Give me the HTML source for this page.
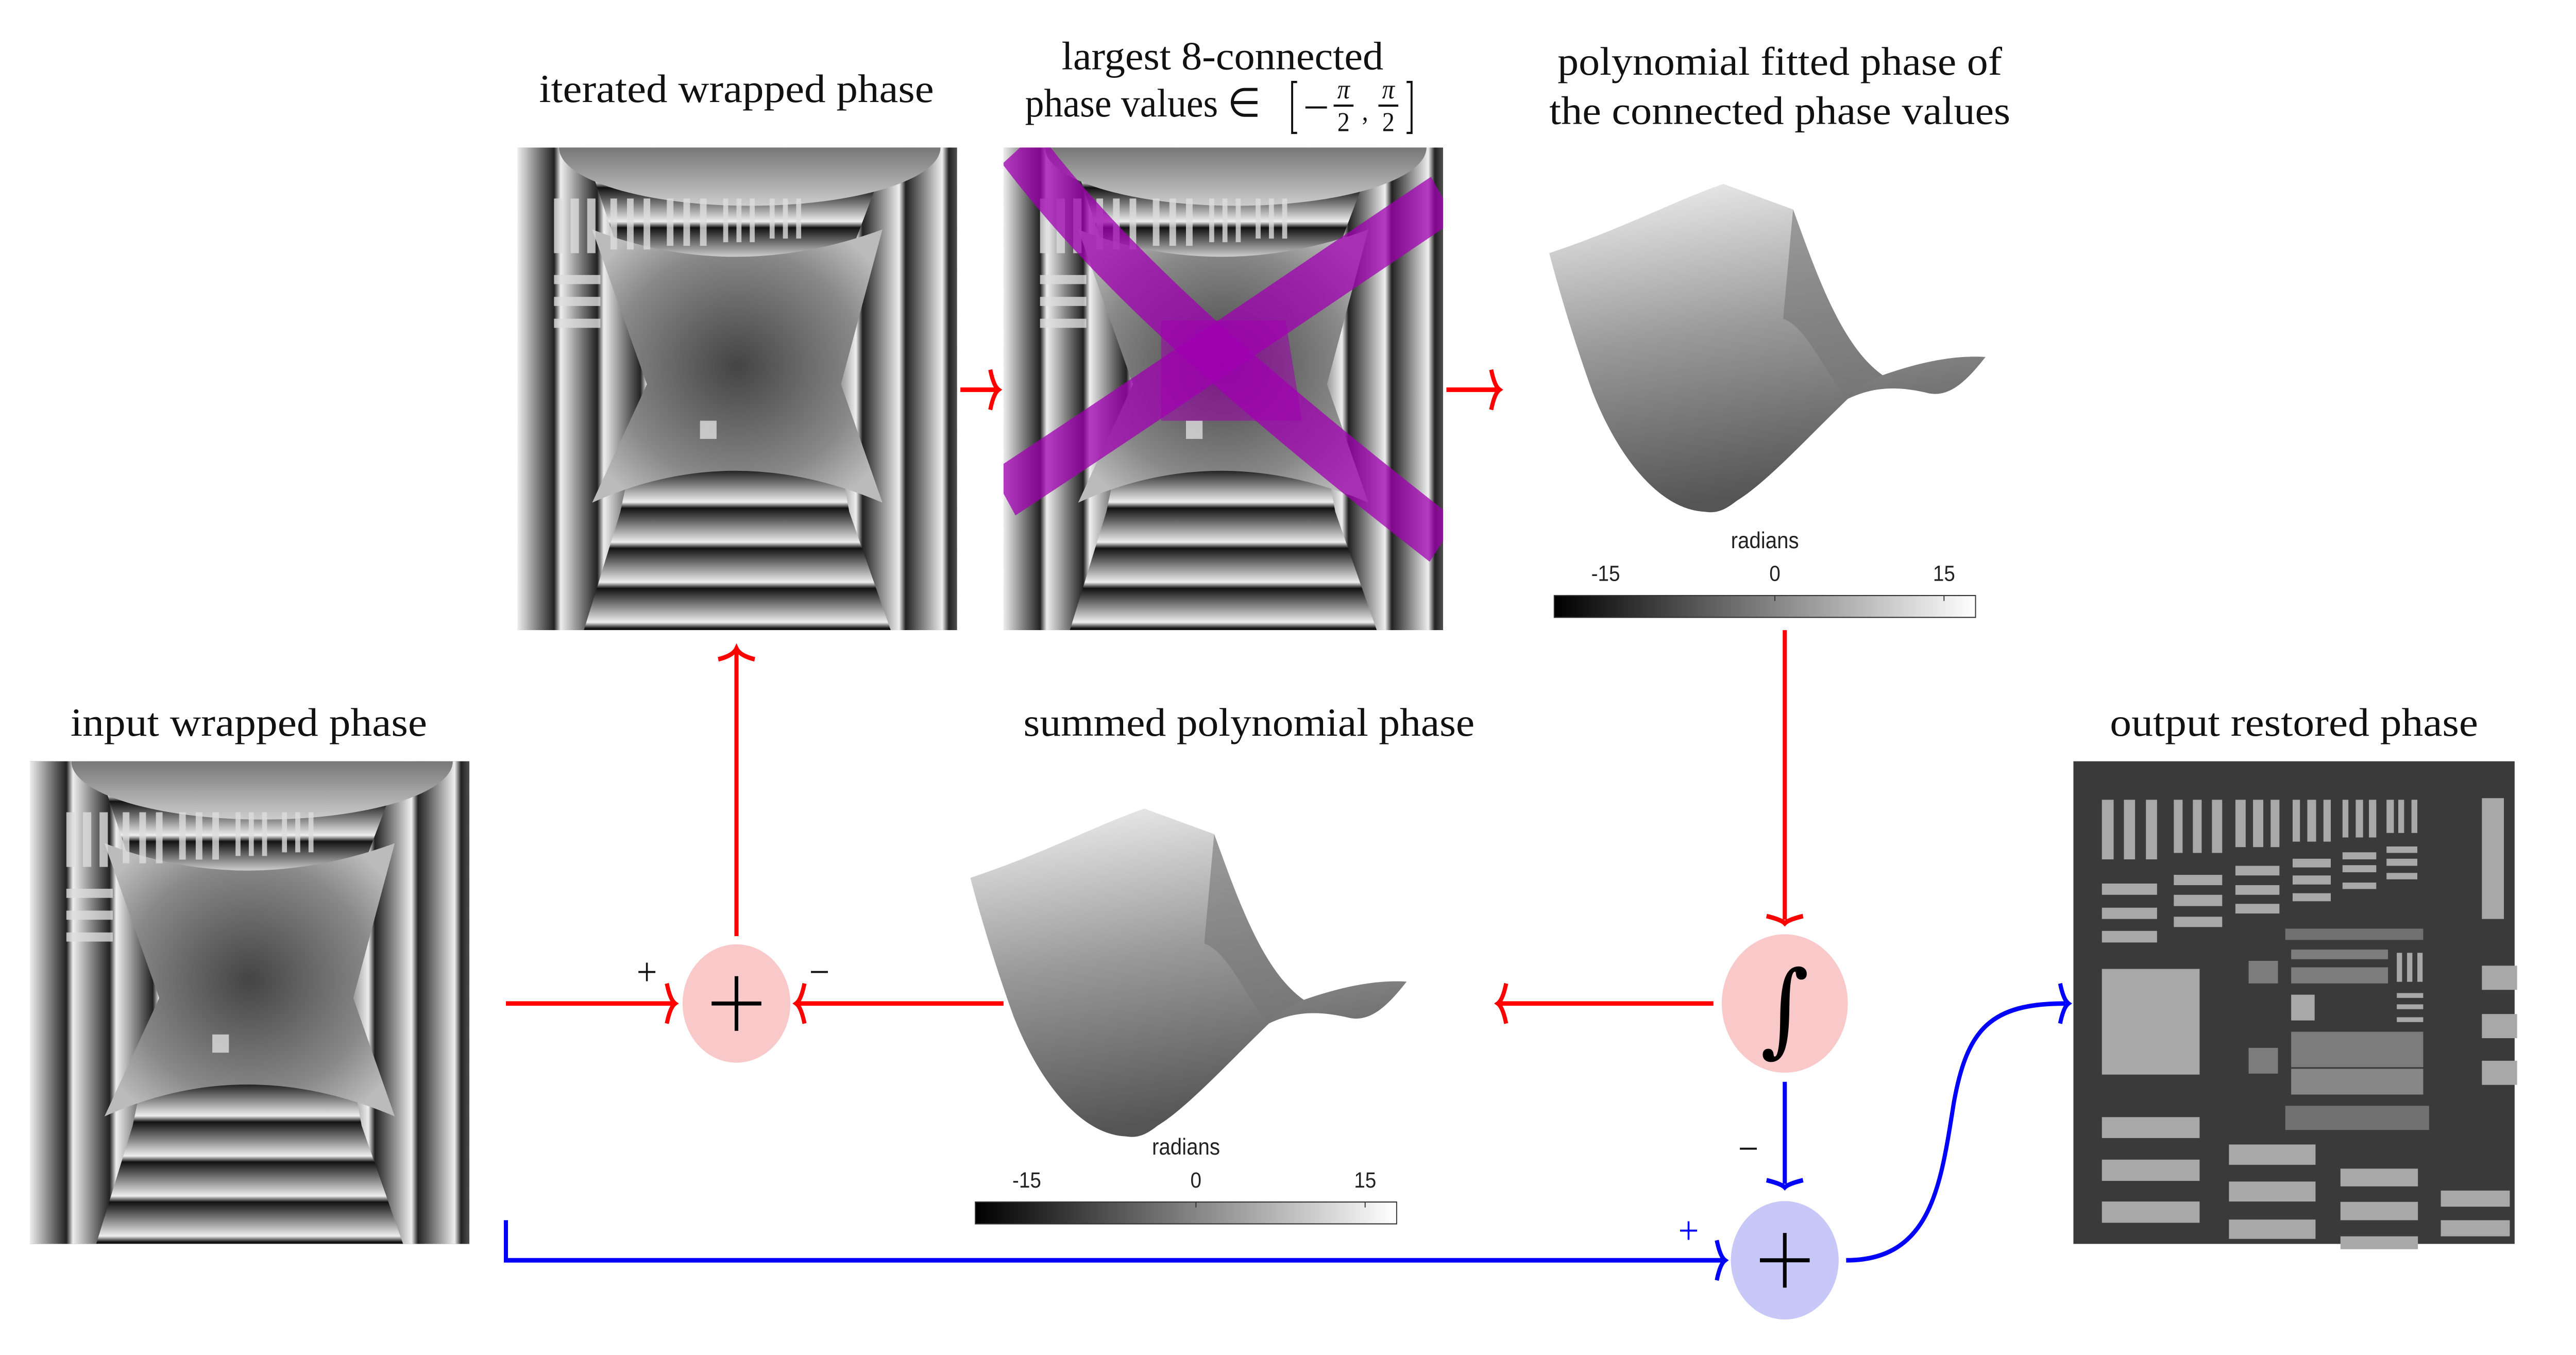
<!DOCTYPE html>
<html><head><meta charset="utf-8"><style>html,body{margin:0;padding:0;background:#fff;overflow:hidden;width:100%;height:100%}svg{display:block;width:100vw;height:100vh}</style></head><body>
<svg viewBox="0 0 1553 744" preserveAspectRatio="none" xmlns="http://www.w3.org/2000/svg">
<defs>
<clipPath id="pc"><rect x="0" y="0" width="265" height="265"/></clipPath>
<linearGradient id="sawV" gradientUnits="userSpaceOnUse" x1="0" y1="0" x2="0" y2="22" spreadMethod="repeat"><stop offset="0" stop-color="#111"/><stop offset="0.85" stop-color="#eee"/><stop offset="1" stop-color="#111"/></linearGradient>
<linearGradient id="sawH" gradientUnits="userSpaceOnUse" x1="0" y1="0" x2="26" y2="0" spreadMethod="repeat"><stop offset="0" stop-color="#eee"/><stop offset="0.85" stop-color="#222"/><stop offset="1" stop-color="#eee"/></linearGradient>
<linearGradient id="sawH2" gradientUnits="userSpaceOnUse" x1="0" y1="0" x2="26" y2="0" spreadMethod="repeat"><stop offset="0" stop-color="#222"/><stop offset="0.85" stop-color="#eee"/><stop offset="1" stop-color="#222"/></linearGradient>
<radialGradient id="cen" cx="0.5" cy="0.5" r="0.6"><stop offset="0" stop-color="#444"/><stop offset="0.7" stop-color="#888"/><stop offset="1" stop-color="#bbb"/></radialGradient>
<linearGradient id="cap" x1="0" y1="0" x2="0" y2="1"><stop offset="0" stop-color="#222"/><stop offset="1" stop-color="#ccc"/></linearGradient>
<linearGradient id="surf" x1="0" y1="0" x2="0.2" y2="1"><stop offset="0" stop-color="#f2f2f2"/><stop offset="0.5" stop-color="#9a9a9a"/><stop offset="1" stop-color="#555"/></linearGradient>
<linearGradient id="cb" x1="0" y1="0" x2="1" y2="0"><stop offset="0" stop-color="#000"/><stop offset="1" stop-color="#fff"/></linearGradient>
<g id="ph">
<g clip-path="url(#pc)">
<rect x="0" y="0" width="265" height="265" fill="url(#sawV)"/>
<path d="M0,0 L40,0 L62,60 L78,130 L62,200 L40,265 L0,265 Z" fill="url(#sawH)"/>
<path d="M265,0 L225,0 L200,60 L186,130 L200,200 L225,265 L265,265 Z" fill="url(#sawH2)"/>
<path d="M45,45 Q130,75 220,45 L195,130 L220,195 Q130,160 45,195 L78,130 Z" fill="url(#cen)"/>
<ellipse cx="140" cy="0" rx="115" ry="32" fill="url(#cap)"/>
<g fill="#ddd" opacity="0.8">
<rect x="22" y="28" width="5" height="30"/><rect x="32" y="28" width="5" height="30"/><rect x="42" y="28" width="5" height="30"/><rect x="56" y="28" width="4" height="28"/><rect x="66" y="28" width="4" height="28"/><rect x="76" y="28" width="4" height="28"/><rect x="90" y="28" width="4" height="26"/><rect x="100" y="28" width="4" height="26"/><rect x="110" y="28" width="4" height="26"/><rect x="124" y="28" width="3" height="24"/><rect x="132" y="28" width="3" height="24"/><rect x="140" y="28" width="3" height="24"/><rect x="152" y="28" width="3" height="22"/><rect x="160" y="28" width="3" height="22"/><rect x="168" y="28" width="3" height="22"/>
<rect x="22" y="70" width="28" height="5"/><rect x="22" y="82" width="28" height="5"/><rect x="22" y="94" width="28" height="5"/>
<rect x="110" y="150" width="10" height="10"/>
</g>
</g>
</g>
</defs>

<g font-family="'Liberation Serif', serif" font-size="22" fill="#111" text-anchor="middle">
<text x="444" y="56" textLength="238" lengthAdjust="spacingAndGlyphs">iterated wrapped phase</text>
<text x="737" y="38" textLength="194" lengthAdjust="spacingAndGlyphs">largest 8-connected</text>
<text x="689" y="64" textLength="142" lengthAdjust="spacingAndGlyphs">phase values ∈</text>
<text x="1073" y="41" textLength="268" lengthAdjust="spacingAndGlyphs">polynomial fitted phase of</text>
<text x="1073" y="68" textLength="278" lengthAdjust="spacingAndGlyphs">the connected phase values</text>
<text x="150" y="404" textLength="215" lengthAdjust="spacingAndGlyphs">input wrapped phase</text>
<text x="753" y="404" textLength="272" lengthAdjust="spacingAndGlyphs">summed polynomial phase</text>
<text x="1383" y="404" textLength="222" lengthAdjust="spacingAndGlyphs">output restored phase</text>
</g>
<g stroke="#111" stroke-width="1.2" fill="none">
<path d="M782,45 L779,45 L779,73 L782,73"/>
<path d="M848,45 L851,45 L851,73 L848,73"/>
<line x1="787" y1="59" x2="800" y2="59"/>
<line x1="804" y1="58" x2="816" y2="58"/>
<line x1="831" y1="58" x2="843" y2="58"/>
</g>
<g font-family="'Liberation Serif', serif" font-size="15" font-style="italic" fill="#111" text-anchor="middle">
<text x="810" y="54">π</text><text x="837" y="54">π</text>
</g>
<g font-family="'Liberation Serif', serif" font-size="15" fill="#111" text-anchor="middle">
<text x="810" y="72">2</text><text x="837" y="72">2</text><text x="823" y="66">,</text>
</g>

<use href="#ph" transform="translate(18,418)"/>
<use href="#ph" transform="translate(312,81)"/>
<g transform="translate(605,81)">
<use href="#ph"/>
<g clip-path="url(#pc)">
<g stroke="#a000b0" stroke-width="28" stroke-opacity="0.75" fill="none">
<path d="M10,0 C60,60 130,120 265,216"/>
<path d="M265,28 C180,80 100,130 0,190"/>
</g>
<path d="M95,95 L170,95 L180,150 L95,150 Z" fill="#a000b0" opacity="0.55"/>
</g>
</g>

<g transform="translate(1250,418)"><rect x="0" y="0" width="266" height="265" fill="#3a3a3a"/></g>
<g transform="translate(1259.22,418.79) scale(0.1769)" fill="#a8a8a8">
<rect x="45" y="115" width="40" height="185"/><rect x="120" y="115" width="38" height="185"/><rect x="195" y="115" width="38" height="185"/>
<rect x="290" y="115" width="30" height="165"/><rect x="355" y="115" width="30" height="165"/><rect x="420" y="115" width="35" height="165"/>
<rect x="500" y="115" width="35" height="147"/><rect x="560" y="115" width="35" height="147"/><rect x="620" y="115" width="30" height="147"/>
<rect x="695" y="115" width="25" height="130"/><rect x="745" y="115" width="30" height="130"/><rect x="800" y="115" width="25" height="130"/>
<rect x="865" y="115" width="20" height="117"/><rect x="910" y="115" width="25" height="117"/><rect x="955" y="115" width="25" height="117"/>
<rect x="1015" y="115" width="25" height="103"/><rect x="1055" y="115" width="20" height="103"/><rect x="1100" y="115" width="20" height="103"/>
<rect x="45" y="375" width="188" height="35"/><rect x="45" y="450" width="188" height="35"/><rect x="45" y="522" width="188" height="36"/>
<rect x="290" y="348" width="165" height="32"/><rect x="290" y="410" width="165" height="35"/><rect x="290" y="478" width="165" height="32"/>
<rect x="500" y="320" width="150" height="30"/><rect x="500" y="380" width="150" height="30"/><rect x="500" y="438" width="150" height="30"/>
<rect x="695" y="298" width="130" height="27"/><rect x="695" y="350" width="130" height="28"/><rect x="695" y="405" width="130" height="25"/>
<rect x="865" y="278" width="115" height="22"/><rect x="865" y="318" width="115" height="22"/><rect x="865" y="372" width="115" height="20"/>
<rect x="1015" y="260" width="105" height="20"/><rect x="1015" y="298" width="105" height="22"/><rect x="1015" y="342" width="105" height="20"/>
<rect x="1340" y="110" width="75" height="375"/>
<rect x="1340" y="630" width="120" height="75"/><rect x="1340" y="780" width="120" height="75"/><rect x="1340" y="925" width="120" height="75"/>
<rect x="45" y="640" width="333" height="328"/>
<rect x="45" y="1100" width="333" height="65"/><rect x="45" y="1232" width="333" height="66"/><rect x="45" y="1362" width="333" height="66"/>
<rect x="478" y="1185" width="295" height="63"/><rect x="478" y="1300" width="295" height="62"/><rect x="478" y="1418" width="295" height="60"/>
<rect x="858" y="1260" width="264" height="55"/><rect x="858" y="1363" width="264" height="57"/><rect x="858" y="1470" width="264" height="40"/>
<rect x="1200" y="1328" width="235" height="50"/><rect x="1200" y="1420" width="235" height="50"/>
<rect x="690" y="720" width="80" height="80"/>
<rect x="1050" y="590" width="18" height="90"/><rect x="1085" y="590" width="18" height="90"/><rect x="1120" y="590" width="18" height="90"/>
<rect x="1050" y="715" width="90" height="15"/><rect x="1050" y="750" width="90" height="15"/><rect x="1050" y="790" width="90" height="15"/>
<rect x="690" y="580" width="330" height="30" opacity="0.6"/><rect x="690" y="635" width="330" height="50" opacity="0.6"/>
<rect x="690" y="835" width="450" height="110" opacity="0.6"/><rect x="690" y="950" width="450" height="80" opacity="0.7"/>
<rect x="670" y="1065" width="490" height="75" opacity="0.5"/><rect x="670" y="515" width="470" height="35" opacity="0.5"/>
<rect x="545" y="615" width="100" height="70" opacity="0.6"/><rect x="545" y="885" width="100" height="80" opacity="0.6"/>
</g>

<g id="surfA">
<path d="M934,139 C980,125 1010,110 1039,101 L1081,115 C1095,150 1110,190 1135,206 C1160,198 1180,195 1197,196 C1185,210 1175,218 1163,216 C1145,212 1130,212 1114,219 C1090,240 1065,265 1047,275 C1040,280 1035,282 1028,281 C1000,280 975,250 960,215 C950,190 940,160 934,139 Z" fill="url(#surf)"/>
<path d="M1081,115 C1095,150 1110,190 1135,206 C1125,210 1118,214 1114,219 C1100,205 1090,180 1075,175 Z" fill="#777" opacity="0.6"/>
</g>
<g font-family="'Liberation Sans', sans-serif" font-size="12" fill="#222" text-anchor="middle" id="cbA">
<text x="1064" y="301" font-size="12.5">radians</text>
<text x="968" y="319">-15</text><text x="1070" y="319">0</text><text x="1172" y="319">15</text>
<rect x="937" y="327" width="254" height="12" fill="url(#cb)" stroke="#333" stroke-width="0.6"/>
<line x1="1070" y1="327" x2="1070" y2="330" stroke="#333" stroke-width="0.6"/>
<line x1="1172" y1="327" x2="1172" y2="330" stroke="#333" stroke-width="0.6"/>
</g>
<use href="#surfA" transform="translate(-349,343)"/>
<use href="#cbA" transform="translate(-349,333)"/>

<circle cx="444" cy="551" r="32.5" fill="#f9c9c9"/>
<circle cx="1076" cy="551" r="38" fill="#f9c9c9"/>
<circle cx="1076" cy="692" r="32.5" fill="#c8c8f8"/>
<g stroke="#000" stroke-width="2.2">
<line x1="429" y1="551" x2="459" y2="551"/><line x1="444" y1="536" x2="444" y2="566"/>
<line x1="1061" y1="692" x2="1091" y2="692"/><line x1="1076" y1="677" x2="1076" y2="707"/>
</g>
<text x="1076" y="573" font-family="'DejaVu Serif', serif" font-style="italic" font-size="56" text-anchor="middle" fill="#000">∫</text>

<g font-family="'Liberation Serif', serif" font-size="22" text-anchor="middle">
<text x="390" y="541" fill="#111">+</text>
<text x="494" y="541" fill="#111">−</text>
<text x="1054" y="638" fill="#111">−</text>
<text x="1018" y="683" fill="#00f">+</text>
</g>

<g stroke="#f00" stroke-width="2.5" fill="none" stroke-linecap="butt">
<line x1="444" y1="514" x2="444" y2="358"/><path d="M433,362 Q442,360 444,356 Q446,360 455,362"/>
<line x1="305" y1="551" x2="405" y2="551"/><path d="M402,540 Q404,549 407,551 Q404,553 402,562"/>
<line x1="605" y1="551" x2="482" y2="551"/><path d="M485,540 Q483,549 480,551 Q483,553 485,562"/>
<line x1="579" y1="214" x2="600" y2="214"/><path d="M597,203 Q599,212 602,214 Q599,216 597,225"/>
<line x1="872" y1="214" x2="902" y2="214"/><path d="M899,203 Q901,212 904,214 Q901,216 899,225"/>
<line x1="1076" y1="346" x2="1076" y2="505"/><path d="M1065,503 Q1074,505 1076,507 Q1078,505 1087,503"/>
<line x1="1033" y1="551" x2="905" y2="551"/><path d="M908,540 Q906,549 903,551 Q906,553 908,562"/>
</g>
<g stroke="#00f" stroke-width="2.5" fill="none">
<line x1="1076" y1="594" x2="1076" y2="650"/><path d="M1065,648 Q1074,650 1076,652 Q1078,650 1087,648"/>
<path d="M305,670 L305,692 L1038,692"/><path d="M1035,681 Q1037,690 1040,692 Q1037,694 1035,703"/>
<path d="M1113,692 C1165,692 1170,650 1178,605 C1186,565 1200,551 1245,551"/><path d="M1242,540 Q1244,549 1247,551 Q1244,553 1242,562"/>
</g>
</svg>
</body></html>
